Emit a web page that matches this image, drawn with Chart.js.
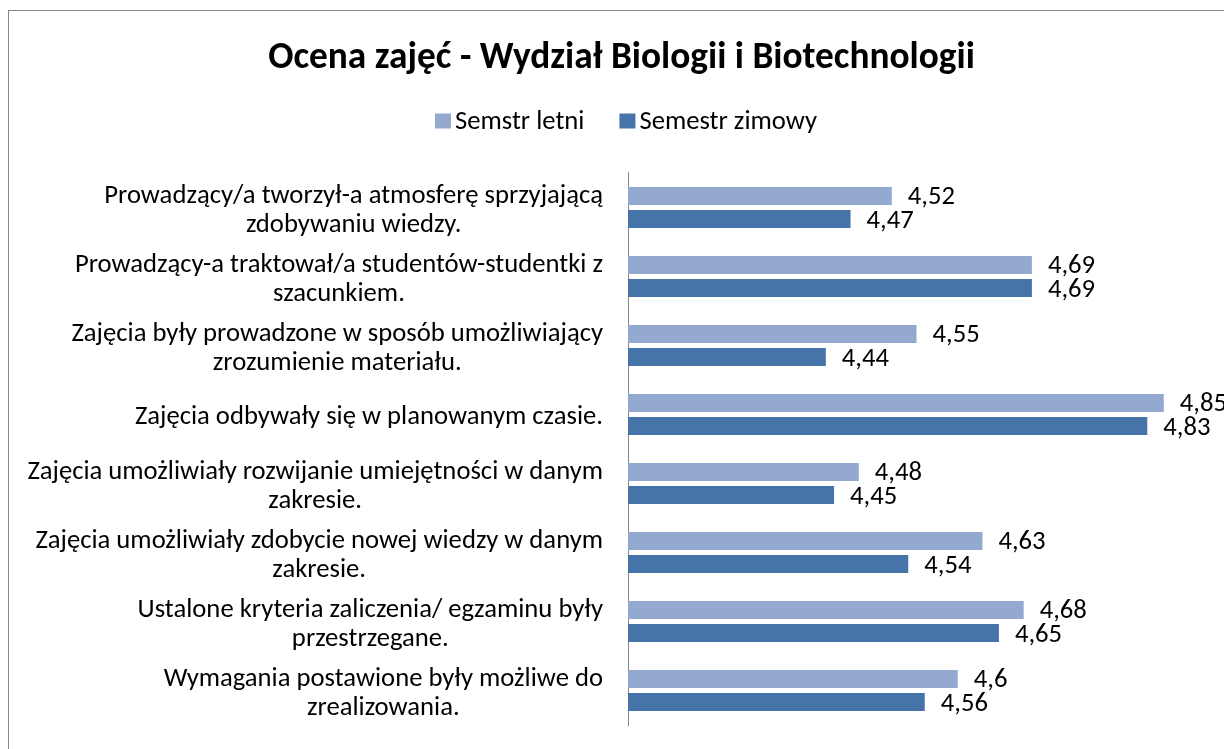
<!DOCTYPE html>
<html><head><meta charset="utf-8">
<script src="https://cdn.jsdelivr.net/npm/chart.js@4.4.0/dist/chart.umd.min.js"></script>
<style>html,body{margin:0;padding:0;background:#fff;overflow:hidden}</style>
</head><body>
<canvas id="c" width="1224" height="749"></canvas>
<script>
const chartTitle = 'Ocena zajęć - Wydział Biologii i Biotechnologii';
const categories = [
  ['Prowadzący/a tworzył-a atmosferę sprzyjającą', 'zdobywaniu wiedzy.'],
  ['Prowadzący-a traktował/a studentów-studentki z', 'szacunkiem.'],
  ['Zajęcia były prowadzone w sposób umożliwiający', 'zrozumienie materiału.'],
  ['Zajęcia odbywały się w planowanym czasie.'],
  ['Zajęcia umożliwiały rozwijanie umiejętności w danym', 'zakresie.'],
  ['Zajęcia umożliwiały zdobycie nowej wiedzy w danym', 'zakresie.'],
  ['Ustalone kryteria zaliczenia/ egzaminu były', 'przestrzegane.'],
  ['Wymagania postawione były możliwe do', 'zrealizowania.']
];
const seriesNames = ['Semstr letni', 'Semestr zimowy'];
const letni = [4.52, 4.69, 4.55, 4.85, 4.48, 4.63, 4.68, 4.6];
const zimowy = [4.47, 4.69, 4.44, 4.83, 4.45, 4.54, 4.65, 4.56];
const seriesColors = ['#94A9D0', '#4674A9'];
const axisMin = 4.2, axisMax = 4.9;

const FONT = 'Carlito, Lato, sans-serif';
const TXT = 26.67, TITLE_SIZE = 37.33;

const framePlugin = {
  id: 'frame',
  beforeDraw(chart) {
    const ctx = chart.ctx;
    ctx.save();
    ctx.fillStyle = '#fff';
    ctx.fillRect(0, 0, chart.width, chart.height);
    ctx.strokeStyle = '#868686';
    ctx.lineWidth = 1;
    ctx.strokeRect(8.5, 10.5, chart.width + 20, chart.height + 20);
    ctx.restore();
  }
};

const legendPlugin = {
  id: 'customLegend',
  afterDraw(chart) {
    const ctx = chart.ctx;
    ctx.save();
    ctx.font = TXT + 'px ' + FONT;
    ctx.textBaseline = 'alphabetic';
    ctx.textAlign = 'left';
    const boxW = 16, boxH = 15, gapText = 4, gapItem = 35;
    const items = chart.data.datasets.map(d => ({t: d.label, c: d.backgroundColor, w: ctx.measureText(d.label).width}));
    let total = 0;
    items.forEach((it, i) => { total += boxW + gapText + it.w + (i ? gapItem : 0); });
    let x = 626 - total / 2;
    const y = 121;
    items.forEach((it, i) => {
      if (i) x += gapItem;
      ctx.fillStyle = it.c;
      ctx.fillRect(x, y - boxH / 2, boxW, boxH);
      x += boxW + gapText;
      ctx.fillStyle = '#000';
      ctx.fillText(it.t, x, y + 7.5);
      x += it.w;
    });
    ctx.restore();
  }
};

const catLabelPlugin = {
  id: 'catLabels',
  afterDraw(chart) {
    const ctx = chart.ctx;
    const ys = chart.scales.y;
    ctx.save();
    ctx.font = TXT + 'px ' + FONT;
    ctx.textBaseline = 'alphabetic';
    ctx.textAlign = 'center';
    ctx.fillStyle = '#000';
    const right = chart.chartArea.left - 25;
    const lineH = 28.7;
    chart.data.labels.forEach((lines, i) => {
      const cy = ys.getPixelForValue(i);
      const bw = Math.max(...lines.map(l => ctx.measureText(l).width));
      const cx = right - bw / 2;
      const y0 = cy - (lines.length - 1) * lineH / 2;
      lines.forEach((l, k) => ctx.fillText(l, cx, y0 + k * lineH + 9.7));
    });
    ctx.restore();
  }
};

const valueLabelPlugin = {
  id: 'valueLabels',
  afterDatasetsDraw(chart) {
    const ctx = chart.ctx;
    ctx.save();
    ctx.font = TXT + 'px ' + FONT;
    ctx.textBaseline = 'alphabetic';
    ctx.textAlign = 'left';
    ctx.fillStyle = '#000';
    chart.data.datasets.forEach((ds, di) => {
      chart.getDatasetMeta(di).data.forEach((el, i) => {
        ctx.fillText(String(ds.data[i]).replace('.', ','), el.x + 16, el.y + 8.5);
      });
    });
    ctx.restore();
  }
};

new Chart(document.getElementById('c'), {
  type: 'bar',
  data: {
    labels: categories,
    datasets: [
      {label: seriesNames[0], data: letni, backgroundColor: seriesColors[0]},
      {label: seriesNames[1], data: zimowy, backgroundColor: seriesColors[1]}
    ]
  },
  options: {
    indexAxis: 'y',
    responsive: false,
    animation: false,
    devicePixelRatio: 1,
    layout: {padding: {left: 38, right: 19, top: 0, bottom: 24}},
    datasets: {bar: {categoryPercentage: 0.667, barPercentage: 0.78}},
    plugins: {
      legend: {display: false},
      tooltip: {enabled: false},
      title: {
        display: true,
        text: chartTitle,
        color: '#000',
        font: {family: FONT, size: TITLE_SIZE, weight: 'bold'},
        padding: {top: 36, bottom: 92.2}
      }
    },
    scales: {
      x: {display: false, min: axisMin, max: axisMax},
      y: {
        display: true,
        grid: {display: false},
        border: {display: true, color: '#868686', width: 1},
        ticks: {display: false},
        afterFit(scale) { scale.width = 590; }
      }
    }
  },
  plugins: [framePlugin, legendPlugin, catLabelPlugin, valueLabelPlugin]
});
</script>
</body></html>
